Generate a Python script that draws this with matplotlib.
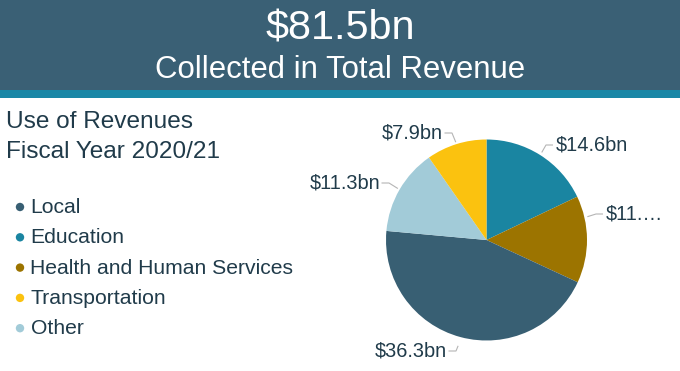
import matplotlib
matplotlib.use("Agg")
import matplotlib.pyplot as plt
from matplotlib.patches import Rectangle, Circle
import numpy as np

# ---------------- data ----------------
headline = "$81.5bn"
subheadline = "Collected in Total Revenue"
panel_title = "Use of Revenues\nFiscal Year 2020/21"

legend_categories = ["Local", "Education", "Health and Human Services", "Transportation", "Other"]
legend_values = [36.3, 14.6, 11.4, 7.9, 11.3]  # $bn

# order of slices clockwise from 12 o'clock
pie_order = ["Education", "Health and Human Services", "Local", "Other", "Transportation"]
pie_labels = {"Education": "$14.6bn", "Health and Human Services": "$11.\u2026",
              "Local": "$36.3bn", "Other": "$11.3bn", "Transportation": "$7.9bn"}

colors = {"Local": "#385f73", "Education": "#1a85a1", "Health and Human Services": "#9c7400",
          "Transportation": "#fbc20f", "Other": "#a2cbd8"}

# ---------------- layout ----------------
W, H = 680, 371
plt.rcParams['font.family'] = ['Liberation Sans', 'DejaVu Sans']
TXT = "#203b4a"

fig = plt.figure(figsize=(W / 100, H / 100), dpi=100)
ax = fig.add_axes([0, 0, 1, 1])


def Y(y):
    return H - y


# header band
ax.add_patch(Rectangle((0, Y(90)), W, 90, facecolor="#3a6075", edgecolor="none", zorder=0))
ax.add_patch(Rectangle((0, Y(98)), W, 8, facecolor="#1a87a6", edgecolor="none", zorder=0))
ax.text(W / 2, Y(39), headline, color="white", fontsize=29.8, ha="center", va="baseline")
ax.text(W / 2, Y(78), subheadline, color="white", fontsize=22.4, ha="center", va="baseline")

# panel title
ax.text(6, Y(128), "Use of Revenues", color=TXT, fontsize=17.6, ha="left", va="baseline")
ax.text(6, Y(158), "Fiscal Year 2020/21", color=TXT, fontsize=17.6, ha="left", va="baseline")

# legend
leg_y0, leg_dy = 207.5, 30.3
for i, cat in enumerate(legend_categories):
    yy = Y(leg_y0 + i * leg_dy)
    ax.add_patch(Circle((20, yy + 0.5), 4.2, facecolor=colors[cat], edgecolor="none"))
    ax.text(30.5, yy, cat, color=TXT, fontsize=15.2, ha="left", va="center")

# pie
cx, cy, R = 486.5, Y(240), 100.5
vals = [legend_values[legend_categories.index(c)] for c in pie_order]
wedges, _ = ax.pie(vals, colors=[colors[c] for c in pie_order], startangle=90,
                   counterclock=False, center=(cx, cy), radius=R,
                   wedgeprops=dict(linewidth=0))

# labels with leader lines
label_layout = {
    # cat: (anchor angle override, radial factor, text x, text y, side)
    "Education": (None, 1.03, 556, 145, "left"),
    "Health and Human Services": (77, 1.03, 606, 214, "left"),
    "Local": (None, 1.09, 447, 351, "right"),
    "Other": (None, 1.02, 380, 183, "right"),
    "Transportation": (None, 1.02, 443, 133, "right"),
}
total = sum(vals)
cum = 0
for c, v in zip(pie_order, vals):
    mid = (cum + v / 2) / total * 360
    cum += v
    ang, rf, tx, ty, side = label_layout[c]
    a = np.deg2rad(mid if ang is None else ang)
    sx, sy = cx + rf * R * np.sin(a), cy + rf * R * np.cos(a)
    if side == "left":
        ex, lx = tx - 10, tx - 3
        ha = "left"
    else:
        ex, lx = tx + 9, tx + 1.5
        ha = "right"
    ax.plot([sx, ex, lx], [sy, Y(ty), Y(ty)], color="#b5b5b5", lw=0.8, solid_capstyle="butt")
    ax.text(tx, Y(ty), pie_labels[c], color=TXT, fontsize=14.4, ha=ha, va="center")

ax.set_xlim(0, W)
ax.set_ylim(0, H)
ax.set_aspect("equal")
ax.axis("off")

fig.savefig("out.png", dpi=100, facecolor="white")
